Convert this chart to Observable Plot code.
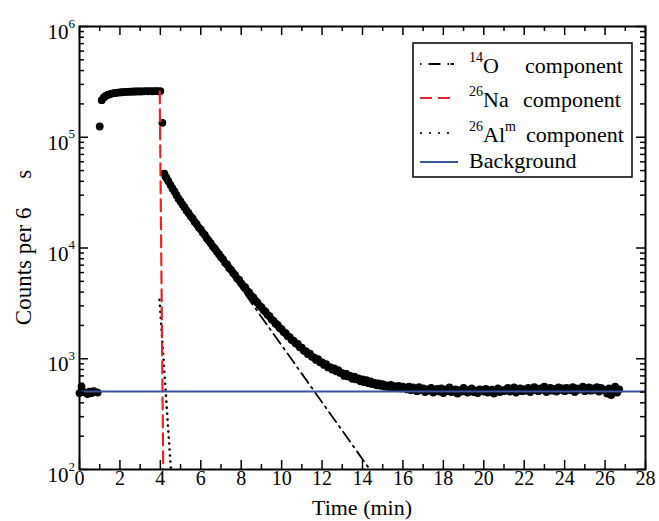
<!DOCTYPE html>
<html><head><meta charset="utf-8">
<script src="https://cdn.jsdelivr.net/npm/d3@7"></script>
<script src="https://cdn.jsdelivr.net/npm/@observablehq/plot@0.6"></script>
<style>body{margin:0;background:#fff} #chart{position:relative;width:659px;height:521px}</style>
</head><body><div id="chart"></div>
<script>
// ---- data (counts per 6 s bin = 0.1 min) ----
const binMinutes = 0.1;
const preStart = 0.0;
const preCounts = [490, 560, 500, 495, 480, 505, 490, 510, 500, 495];
const implantStart = 1.0;
const implantCounts = [125000, 216000, 229000, 236000, 241000, 245000, 248000, 250000, 252000, 253000,
  254000, 255000, 256000, 257000, 257000, 258000, 258000, 259000, 259000, 260000,
  259000, 260000, 260000, 261000, 260000, 261000, 260000, 261000, 261000, 260000,
  261000, 135000];
const decayStart = 4.2;
const decayCounts = [
  47000, 43200, 40100, 37200, 34500, 32400, 30000, 27900, 26300, 24600,
  23200, 21700, 20600, 19300, 18500, 17200, 16400, 15300, 14700, 13700,
  13100, 12200, 11600, 11000, 10300, 9850, 9250, 8800, 8250, 7900,
  7350, 7100, 6600, 6350, 5950, 5700, 5300, 5150, 4800, 4550,
  4400, 4100, 3950, 3700, 3560, 3350, 3220, 3020, 2920, 2750,
  2660, 2490, 2420, 2270, 2200, 2080, 2020, 1900, 1850, 1740,
  1700, 1600, 1570, 1480, 1450, 1370, 1360, 1270, 1260, 1180,
  1170, 1100, 1110, 1040, 1030, 975, 990, 930, 925, 880,
  895, 835, 840, 800, 820, 770, 790, 745, 740, 700,
  730, 690, 700, 660, 690, 650, 665, 625, 650, 615,
  640, 600, 625, 590, 605, 575, 600, 570, 590, 560,
  575, 555, 580, 550, 565, 545, 570, 540, 560, 545,
  530, 560, 520, 550, 535, 510, 555, 525, 540,
  500, 530, 515, 545, 495, 520, 535, 505, 540, 490,
  525, 510, 550, 500, 515, 530, 485, 520, 505, 545,
  510, 495, 525, 540, 500, 515, 490, 530, 520, 505,
  535, 495, 510, 525, 485, 515, 540, 500, 520, 510,
  530, 545, 505, 520, 550, 495, 525, 540, 510, 530,
  515, 545, 500, 535, 555, 520, 510, 540, 525, 560,
  500, 530, 545, 515, 535, 505, 550, 525, 540, 510,
  545, 530, 520, 555, 500, 540, 525, 535, 560, 510,
  530, 550, 515, 540, 525, 555, 505, 545, 530, 520,
  485, 540, 470, 525, 560, 495, 530];

// fit components
const o14Time = [4.1, 14.45];
const o14Counts = [43350, 95];
const na26Time = [3.97, 4.145];
const na26Counts = [260000, 90];
const al26mTime = [3.96, 4.53];
const al26mCounts = [3400, 95];
const backgroundLevel = 505;

// axes
const xMajor = [0, 2, 4, 6, 8, 10, 12, 14, 16, 18, 20, 22, 24, 26, 28];
const xMinor = [1, 3, 5, 7, 9, 11, 13, 15, 17, 19, 21, 23, 25, 27];
const yMajor = [1e2, 1e3, 1e4, 1e5, 1e6];
const yExponents = ["2", "3", "4", "5", "6"];
const yMinor = [2,3,4,5,6,7,8,9].flatMap(m => [1e2, 1e3, 1e4, 1e5].map(p => m * p));
const xTitle = "Time (min)";
const yTitle = "Counts per 6\u00a0\u00a0\u00a0\u00a0 s";

const legendItems = [
  {sup: "14", main: "O", sup2: "", tail: "component", key: "o14"},
  {sup: "26", main: "Na", sup2: "", tail: "component", key: "na26"},
  {sup: "26", main: "Al", sup2: "m", tail: "component", key: "al26m"},
  {sup: "", main: "Background", sup2: "", tail: "", key: "bg"}
];

// ---- build rows ----
const rows = [];
const addSeg = (start, arr) => arr.forEach((c, i) => rows.push({t: Math.round((start + i * binMinutes) * 10) / 10, c}));
addSeg(preStart, preCounts);
addSeg(implantStart, implantCounts);
addSeg(decayStart, decayCounts);
const lineRows = (ts, cs) => ts.map((t, i) => ({t, c: cs[i]}));

const FONT = "'Liberation Serif', 'Times New Roman', serif";
const RED = "#e8232a", BLUE = "#3653a4";
const styles = {
  o14: {stroke: "black", strokeWidth: 1.8, strokeDasharray: "12,5,2,5"},
  na26: {stroke: RED, strokeWidth: 2.2, strokeDasharray: "12,6"},
  al26m: {stroke: "black", strokeWidth: 2.6, strokeDasharray: "0,6", strokeLinecap: "round"},
  bg: {stroke: BLUE, strokeWidth: 2}
};

const W = 659, H = 521, ML = 79, MR = 14, MT = 26, MB = 52;
const FW = W - ML - MR, FH = H - MT - MB;
const MAJ = 9, MIN = 5;
const tk = {stroke: "black", strokeWidth: 1.5};

const chart = Plot.plot({
  width: W, height: H,
  marginLeft: ML, marginRight: MR, marginTop: MT, marginBottom: MB,
  x: {domain: [0, 28], axis: null},
  y: {type: "log", domain: [100, 1e6], axis: null},
  style: {fontFamily: FONT, background: "white", color: "black"},
  marks: [
    Plot.dot(rows, {x: "t", y: "c", r: 3.9, fill: "black", stroke: null}),
    Plot.line(lineRows(o14Time, o14Counts), {x: "t", y: "c", ...styles.o14, clip: true}),
    Plot.line(lineRows(al26mTime, al26mCounts), {x: "t", y: "c", ...styles.al26m, clip: true}),
    Plot.line(lineRows(na26Time, na26Counts), {x: "t", y: "c", ...styles.na26, clip: true}),
    Plot.ruleY([backgroundLevel], {...styles.bg}),
    // inward ticks on all four sides
    Plot.tickX(xMajor, {x: d => d, insetTop: FH - MAJ, ...tk}),
    Plot.tickX(xMinor, {x: d => d, insetTop: FH - MIN, ...tk}),
    Plot.tickX(xMajor, {x: d => d, insetBottom: FH - MAJ, ...tk}),
    Plot.tickX(xMinor, {x: d => d, insetBottom: FH - MIN, ...tk}),
    Plot.tickY(yMajor, {y: d => d, insetRight: FW - MAJ, ...tk}),
    Plot.tickY(yMinor, {y: d => d, insetRight: FW - MIN, ...tk}),
    Plot.tickY(yMajor, {y: d => d, insetLeft: FW - MAJ, ...tk}),
    Plot.tickY(yMinor, {y: d => d, insetLeft: FW - MIN, ...tk}),
    Plot.frame({stroke: "black", strokeWidth: 2}),
    Plot.text(xMajor, {x: d => d, text: d => String(d), frameAnchor: "bottom", dy: 15, fontSize: 20, fill: "black"}),
    Plot.text(yMajor, {y: d => d, text: () => "10", frameAnchor: "left", dx: -11, dy: 6, textAnchor: "end", fontSize: 21, fill: "black"}),
    Plot.text(yMajor, {y: d => d, text: (d, i) => yExponents[i], frameAnchor: "left", dx: -11, dy: -3, textAnchor: "start", fontSize: 13, fill: "black"})
  ]
});
document.getElementById("chart").appendChild(chart);

const svg = d3.select(chart);
// axis titles
svg.append("text").attr("x", ML + FW / 2).attr("y", 515).attr("text-anchor", "middle")
  .attr("font-family", FONT).attr("font-size", 22).attr("fill", "black").text(xTitle);
svg.append("text").attr("transform", `translate(31,${MT + FH / 2}) rotate(-90)`).attr("text-anchor", "middle")
  .attr("font-family", FONT).attr("font-size", 23).attr("fill", "black").text(yTitle);

// ---- legend ----
const lg = svg.append("g").attr("font-family", FONT).attr("fill", "black").attr("text-anchor", "start");
lg.append("rect").attr("x", 413).attr("y", 43).attr("width", 219).attr("height", 134)
  .attr("fill", "white").attr("stroke", "black").attr("stroke-width", 1.5);
const rowBase = [73, 107, 142, 168];
const rowLine = [64, 98, 133, 162];
const tailX = {o14: 525, na26: 523, al26m: 526};
legendItems.forEach((it, i) => {
  const s = styles[it.key];
  const dash = it.key === "o14" ? "1.5,7,12,7,1.5" : (it.key === "al26m" ? "0,9" : (s.strokeDasharray || null));
  lg.append("line").attr("x1", it.key === "al26m" ? 421 : 420).attr("x2", it.key === "bg" ? 458 : 454)
    .attr("y1", rowLine[i]).attr("y2", rowLine[i])
    .attr("stroke", s.stroke).attr("stroke-width", it.key === "al26m" ? 2.2 : s.strokeWidth)
    .attr("stroke-dasharray", dash)
    .attr("stroke-linecap", it.key === "al26m" ? "round" : "butt");
  const tx = lg.append("text").attr("x", 469).attr("y", rowBase[i]).attr("font-size", 22).attr("text-anchor", "start");
  if (it.sup) tx.append("tspan").attr("font-size", 14).attr("dy", -11).text(it.sup);
  tx.append("tspan").attr("dy", it.sup ? 11 : 0).text(it.main);
  if (it.sup2) tx.append("tspan").attr("font-size", 14).attr("dy", -11).text(it.sup2);
  if (it.tail) {
    lg.append("text").attr("x", tailX[it.key]).attr("y", rowBase[i]).attr("font-size", 22)
      .attr("text-anchor", "start").text(it.tail);
  }
});
</script></body></html>
